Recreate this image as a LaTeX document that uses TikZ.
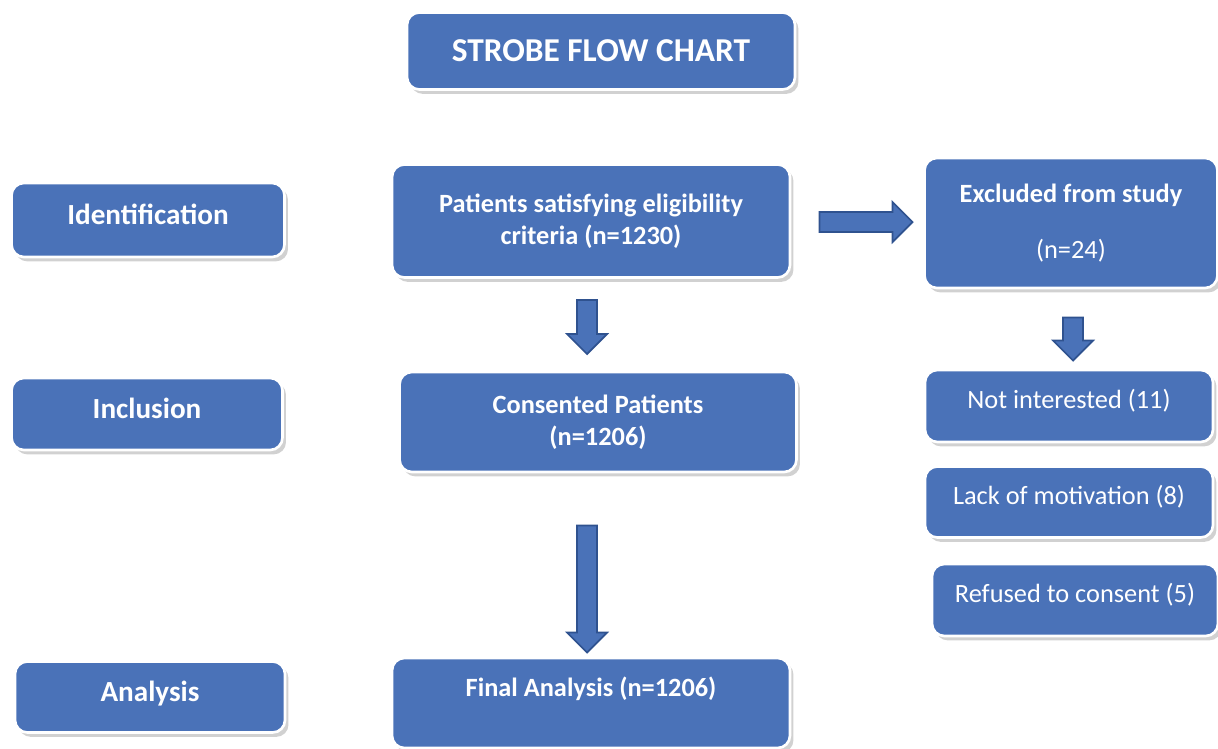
\documentclass[tikz,border=0pt]{standalone}
\usepackage{fontspec}
\setmainfont{Carlito}
\usepackage{tikz}
\usetikzlibrary{positioning,shapes.arrows,shadows}
\definecolor{boxblue}{HTML}{4A72B8}
\definecolor{arrowedge}{HTML}{2F528F}

\begin{document}
\begin{tikzpicture}[x=0.02cm,y=-0.02cm,
	box/.style={rectangle,rounded corners=7pt,fill=boxblue,draw=white,line width=1.5pt,text=white,align=center,inner sep=2pt,
		drop shadow={shadow xshift=2pt,shadow yshift=-2.5pt,opacity=0.4,fill=black!45}},
	stage/.style={box,font=\fontsize{16.6}{19}\selectfont\bfseries,text depth=7pt},
	main/.style={box,font=\fontsize{15}{18.5}\selectfont\bfseries},
	reason/.style={box,font=\fontsize{15}{18}\selectfont,text depth=8pt},
	blockarrow/.style={single arrow,draw=arrowedge,fill=boxblue,line width=1pt,inner sep=5.2pt,
		single arrow head extend=5.7pt,single arrow head indent=0pt,minimum width=0.78cm}]
	\useasboundingbox (0,0) rectangle (1218,748);
	
	\node[box,font=\fontsize{19}{22}\selectfont\bfseries,minimum width=7.76cm,minimum height=1.54cm] (title) at (601,51) {STROBE FLOW CHART};
	
	\node[stage,minimum width=5.46cm,minimum height=1.48cm] (ident) at (148,220) {Identification};
	\node[stage,minimum width=5.42cm,minimum height=1.44cm] (incl) at (147,414) {Inclusion};
	\node[stage,minimum width=5.4cm,minimum height=1.42cm] (anal) at (150,697) {Analysis};
	
	\node[main,minimum width=7.96cm,minimum height=2.26cm] (pat) at (591,221) {Patients satisfying eligibility\\criteria (n=1230)};
	\node[main,minimum width=7.94cm,minimum height=2cm] (con) at (598,422) {Consented Patients\\(n=1206)};
	\node[main,minimum width=7.96cm,minimum height=1.8cm] (fin) at (591,703) {Final Analysis (n=1206)\\\mbox{}};
	
	\node[box,font=\fontsize{15}{18}\selectfont,minimum width=5.86cm,minimum height=2.6cm] (excl) at (1071,223) {\textbf{Excluded from study}\\[14pt](n=24)};
	\node[reason,minimum width=5.76cm,minimum height=1.44cm] (notint) at (1069,406) {Not interested (11)};
	\node[reason,minimum width=5.76cm,minimum height=1.42cm] (lack) at (1069,502) {Lack of motivation (8)};
	\node[reason,minimum width=5.72cm,minimum height=1.44cm] (refused) at (1075,600) {Refused to consent (5)};
	
	\node[blockarrow,rotate=-90,minimum height=1.08cm] (a1) at (587,322) {};
	\node[blockarrow,rotate=-90,minimum height=2.54cm] (a2) at (587,584) {};
	\node[blockarrow,minimum height=1.86cm] (a3) at (861,222) {};
	\node[blockarrow,rotate=-90,minimum height=0.86cm] (a4) at (1073,334) {};
\end{tikzpicture}
\end{document}
